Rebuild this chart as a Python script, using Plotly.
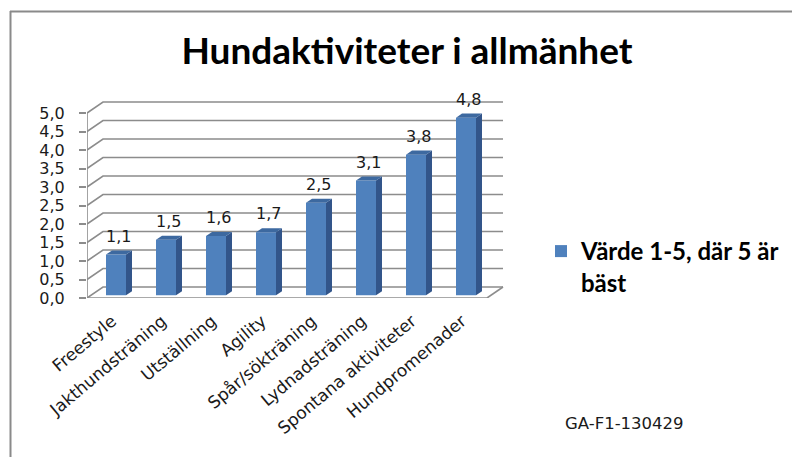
import plotly.graph_objects as go

categories = ["Freestyle", "Jakthundsträning", "Utställning", "Agility",
              "Spår/sökträning", "Lydnadsträning", "Spontana aktiviteter", "Hundpromenader"]
values = [1.1, 1.5, 1.6, 1.7, 2.5, 3.1, 3.8, 4.8]
y_ticks = [0.0, 0.5, 1.0, 1.5, 2.0, 2.5, 3.0, 3.5, 4.0, 4.5, 5.0]
series_name = "<b>Värde 1-5, där 5 är<br>bäst</b>"
title_text = "Hundaktiviteter i allmänhet"
note_text = "GA-F1-130429"

# layout geometry (pixels)
W, H = 792, 457
L_PX, R_PX, T_PX, B_PX = 87, 505, 90, 298
XPX, YPX = 50.0, 37.0          # pixels per data unit
X0 = -0.5
XMAX = X0 + (R_PX - L_PX) / XPX
YMAX = (B_PX - T_PX) / YPX
DX, DY = 16 / XPX, 11 / YPX    # depth of the 3D box
F0, FD = 0.25, 0.375           # bar front depth fraction, bar depth
BW = 0.4
N = len(categories)

FRONT = "#4F81BD"
SIDE = "#32558A"
TOP = "#3D69A0"
GRID = "#8C8C8C"
TXT = "#1a1a1a"


def px_x(p):
    return (p - L_PX) / (R_PX - L_PX)


def px_y(p):
    return (B_PX - p) / (B_PX - T_PX)


fig = go.Figure()

# front faces
base = F0 * DY
xc = [i + F0 * DX for i in range(N)]
fig.add_trace(go.Bar(x=xc, y=values, base=base, width=BW, name=series_name,
                     marker=dict(color=FRONT, line=dict(width=0)), hoverinfo="y"))

# side and top faces
for i, v in enumerate(values):
    xl = xc[i] - BW / 2
    xr = xc[i] + BW / 2
    sx, sy = FD * DX, FD * DY
    fig.add_trace(go.Scatter(x=[xr, xr + sx, xr + sx, xr, xr],
                             y=[base, base + sy, base + v + sy, base + v, base],
                             fill="toself", fillcolor=SIDE, mode="lines",
                             line=dict(width=0, color=SIDE), showlegend=False, hoverinfo="skip"))
    fig.add_trace(go.Scatter(x=[xl, xr, xr + sx, xl + sx, xl],
                             y=[base + v, base + v, base + v + sy, base + v + sy, base + v],
                             fill="toself", fillcolor=TOP, mode="lines",
                             line=dict(width=0, color=TOP), showlegend=False, hoverinfo="skip"))

shapes = []
# back-wall gridlines with left-wall diagonals
for t in y_ticks:
    path = f"M {X0},{t} L {X0 + DX},{t + DY} L {X0 + N + DX},{t + DY}"
    shapes.append(dict(type="path", path=path, xref="x", yref="y",
                       line=dict(color=GRID, width=1.6), layer="below"))
# floor front and right edges
shapes.append(dict(type="line", x0=X0, y0=0, x1=X0 + N, y1=0, xref="x", yref="y",
                   line=dict(color=GRID, width=1.6), layer="below"))
shapes.append(dict(type="line", x0=X0 + N, y0=0, x1=X0 + N + DX, y1=DY, xref="x", yref="y",
                   line=dict(color=GRID, width=1.6), layer="below"))
# y axis line
shapes.append(dict(type="line", x0=X0, y0=0, x1=X0, y1=max(y_ticks), xref="x", yref="y",
                   line=dict(color=GRID, width=1.6), layer="below"))
# category boundary ticks
for k in range(N + 1):
    shapes.append(dict(type="line", x0=X0 + k, y0=0, x1=X0 + k, y1=-6 / YPX, xref="x", yref="y",
                       line=dict(color=GRID, width=1.6), layer="below"))
# outer frame
shapes.append(dict(type="line", x0=px_x(10), y0=px_y(11.5), x1=px_x(W), y1=px_y(11.5),
                   xref="paper", yref="paper", line=dict(color="#8A8A8A", width=2)))
shapes.append(dict(type="line", x0=px_x(10.5), y0=px_y(11), x1=px_x(10.5), y1=px_y(H),
                   xref="paper", yref="paper", line=dict(color="#8A8A8A", width=2)))

annotations = []
for i, v in enumerate(values):
    annotations.append(dict(x=xc[i] + 0.05, y=base + v, xref="x", yref="y",
                            text=f"{v:.1f}".replace(".", ","), showarrow=False,
                            xanchor="center", yanchor="bottom", yshift=7,
                            font=dict(family="DejaVu Sans", size=16, color=TXT)))
annotations.append(dict(x=px_x(624), y=px_y(423), xref="paper", yref="paper",
                        text=note_text, showarrow=False, xanchor="center", yanchor="middle",
                        font=dict(family="DejaVu Sans", size=16.5, color=TXT)))

fig.update_layout(
    width=W, height=H,
    margin=dict(l=L_PX, r=W - R_PX, t=T_PX, b=H - B_PX, autoexpand=False),
    paper_bgcolor="white", plot_bgcolor="white",
    separators=",.",
    title=dict(text=f"<b>{title_text}</b>", x=px_x(407), xref="paper", xanchor="center",
               y=1 - 51 / H, yanchor="middle",
               font=dict(family="Lato", size=37, color="black")),
    xaxis=dict(range=[X0, XMAX], tickvals=list(range(N)), ticktext=categories,
               tickangle=-40, showgrid=False, zeroline=False, showline=False, ticks="",
               ticklabelstandoff=9,
               tickfont=dict(family="DejaVu Sans", size=17, color=TXT)),
    yaxis=dict(range=[0, YMAX], tickvals=y_ticks, tickformat=".1f",
               showgrid=False, zeroline=False, showline=False,
               ticks="outside", ticklen=7, tickcolor=GRID, tickwidth=1.6,
               ticklabelstandoff=11,
               tickfont=dict(family="DejaVu Sans", size=16, color=TXT)),
    showlegend=True,
    legend=dict(x=px_x(541), y=px_y(229), xref="paper", yref="paper",
                xanchor="left", yanchor="top", valign="top", tracegroupgap=0,
                font=dict(family="Lato", size=24, color="black"),
                bgcolor="rgba(0,0,0,0)"),
    shapes=shapes, annotations=annotations,
)

fig.write_html("out.html", config={"displayModeBar": False},
               post_script="document.body.style.margin='0';")
